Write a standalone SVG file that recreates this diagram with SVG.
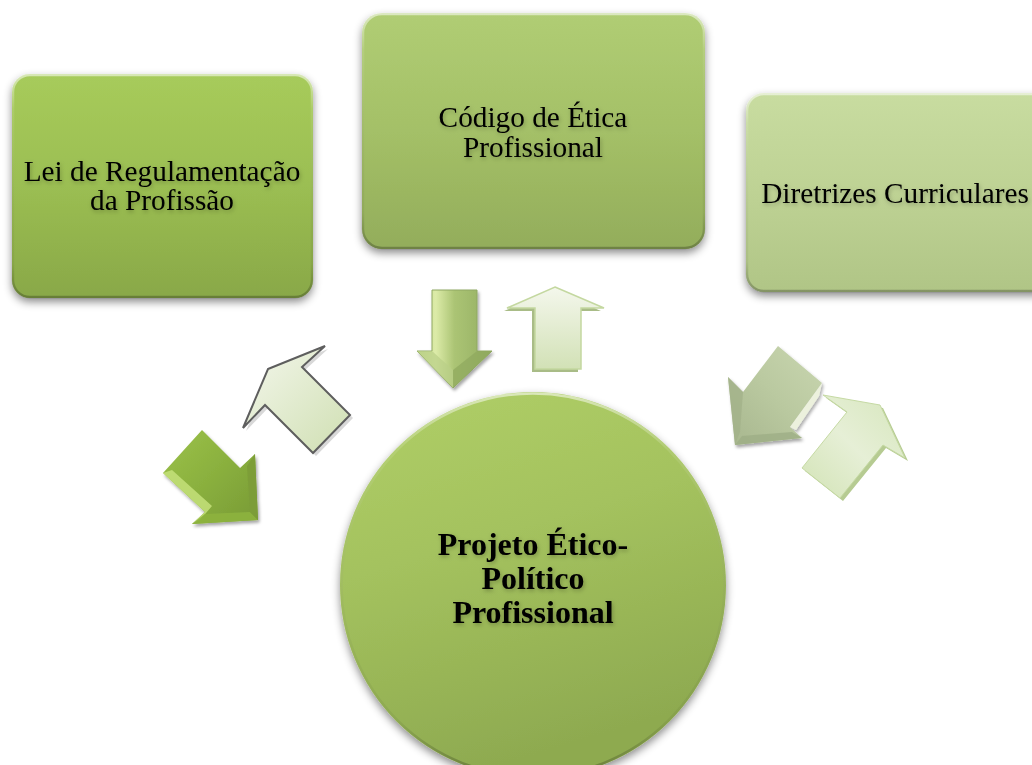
<svg xmlns="http://www.w3.org/2000/svg" width="1032" height="765" viewBox="0 0 1032 765">
  <defs>
    <style>
      .lbl { font-family: "Liberation Serif", "Times New Roman", serif; font-size: 29.3px; fill: #000; text-anchor: middle; }
      .main { font-family: "Liberation Serif", "Times New Roman", serif; font-size: 32px; font-weight: bold; fill: #000; text-anchor: middle; }
      .rim { fill: none; stroke: url(#rim); stroke-width: 2.5; }
    </style>
    <filter id="shadow" x="-10%" y="-10%" width="120%" height="125%">
      <feDropShadow dx="0" dy="4" stdDeviation="4" flood-color="#000" flood-opacity="0.45"/>
    </filter>
    <filter id="soft" x="-10%" y="-10%" width="125%" height="125%">
      <feDropShadow dx="1.5" dy="2.5" stdDeviation="1.5" flood-color="#000" flood-opacity="0.35"/>
    </filter>
    <filter id="tshadow" x="-5%" y="-20%" width="110%" height="150%">
      <feDropShadow dx="1" dy="2" stdDeviation="2" flood-color="#000" flood-opacity="0.25"/>
    </filter>
    <linearGradient id="rim" x1="0" y1="0" x2="0" y2="1">
      <stop offset="0" stop-color="#fff" stop-opacity="0.55"/>
      <stop offset="0.15" stop-color="#fff" stop-opacity="0.1"/>
      <stop offset="0.85" stop-color="#000" stop-opacity="0.05"/>
      <stop offset="1" stop-color="#000" stop-opacity="0.25"/>
    </linearGradient>
    <linearGradient id="gLeft" x1="0" y1="0" x2="0" y2="1">
      <stop offset="0" stop-color="#A7CB5B"/>
      <stop offset="0.5" stop-color="#9BBE52"/>
      <stop offset="1" stop-color="#89A848"/>
    </linearGradient>
    <linearGradient id="gCenter" x1="0" y1="0" x2="0" y2="1">
      <stop offset="0" stop-color="#B0CD74"/>
      <stop offset="0.5" stop-color="#A4C067"/>
      <stop offset="1" stop-color="#93AD5B"/>
    </linearGradient>
    <linearGradient id="gRight" x1="0" y1="0" x2="0" y2="1">
      <stop offset="0" stop-color="#C8DCA0"/>
      <stop offset="0.5" stop-color="#BED294"/>
      <stop offset="1" stop-color="#B0C586"/>
    </linearGradient>
    <linearGradient id="gCircle" x1="0" y1="0" x2="0.3" y2="1">
      <stop offset="0" stop-color="#B0CF68"/>
      <stop offset="0.45" stop-color="#A4C25E"/>
      <stop offset="1" stop-color="#8EAA50"/>
    </linearGradient>
    <linearGradient id="gDown" x1="0" y1="0" x2="1" y2="0">
      <stop offset="0" stop-color="#C6DC8C"/>
      <stop offset="0.25" stop-color="#DCEBA8"/>
      <stop offset="0.5" stop-color="#ABC474"/>
      <stop offset="1" stop-color="#93AE62"/>
    </linearGradient>
    <linearGradient id="gPale" x1="0" y1="0" x2="0" y2="1">
      <stop offset="0" stop-color="#F4F7EC"/>
      <stop offset="1" stop-color="#D2E1B6"/>
    </linearGradient>
    <linearGradient id="gPaleDiag" x1="0" y1="0" x2="1" y2="1">
      <stop offset="0" stop-color="#F4F7EC"/>
      <stop offset="1" stop-color="#CFDFB2"/>
    </linearGradient>
    <linearGradient id="gDark" x1="0" y1="0" x2="1" y2="1">
      <stop offset="0" stop-color="#9CC24A"/>
      <stop offset="0.5" stop-color="#8AB03E"/>
      <stop offset="1" stop-color="#789A35"/>
    </linearGradient>
    <linearGradient id="gGrey" x1="1" y1="0" x2="0" y2="1">
      <stop offset="0" stop-color="#C9D6B0"/>
      <stop offset="0.5" stop-color="#BAC9A0"/>
      <stop offset="1" stop-color="#A7B68E"/>
    </linearGradient>
    <linearGradient id="gLight" x1="0" y1="1" x2="1" y2="0">
      <stop offset="0" stop-color="#D2E3B5"/>
      <stop offset="0.5" stop-color="#E6EFD6"/>
      <stop offset="1" stop-color="#D6E6BC"/>
    </linearGradient>
  </defs>

  <rect width="1032" height="765" fill="#fff"/>

  <!-- nodes -->
  <g id="node-lei">
    <rect x="12" y="74" width="301" height="224" rx="18" fill="url(#gLeft)" filter="url(#shadow)"/>
    <rect x="13" y="75" width="299" height="222" rx="17" class="rim"/>
    <g filter="url(#tshadow)">
      <text class="lbl" x="162" y="181">Lei de Regulamentação</text>
      <text class="lbl" x="162" y="210">da Profissão</text>
    </g>
  </g>

  <g id="node-codigo">
    <rect x="362" y="13" width="343" height="236" rx="20" fill="url(#gCenter)" filter="url(#shadow)"/>
    <rect x="363" y="14" width="341" height="234" rx="19" class="rim"/>
    <g filter="url(#tshadow)">
      <text class="lbl" x="533" y="127">Código de Ética</text>
      <text class="lbl" x="533" y="157">Profissional</text>
    </g>
  </g>

  <g id="node-diretrizes">
    <rect x="746" y="93" width="310" height="199" rx="18" fill="url(#gRight)" filter="url(#shadow)"/>
    <rect x="747" y="94" width="308" height="197" rx="17" class="rim"/>
    <g filter="url(#tshadow)">
      <text class="lbl" x="895" y="203">Diretrizes Curriculares</text>
    </g>
  </g>

  <g id="node-projeto">
    <circle cx="533" cy="585" r="193" fill="url(#gCircle)" filter="url(#shadow)"/>
    <circle cx="533" cy="585" r="191.5" class="rim"/>
    <g filter="url(#tshadow)">
      <text class="main" x="533" y="555">Projeto Ético-</text>
      <text class="main" x="533" y="589">Político</text>
      <text class="main" x="533" y="623">Profissional</text>
    </g>
  </g>

  <!-- connectors: block arrows between the nodes and the centre -->
  <g id="connectors">
    <!-- Código -> Projeto (down) -->
    <g filter="url(#soft)">
      <polygon points="432,290 477,290 477,351 492,351 453,388 417,351 432,351" fill="url(#gDown)" stroke="#8FA862" stroke-width="1"/>
      <polygon points="417,351 432,351 453,370 453,388" fill="#B9CE88" opacity="0.7"/>
      <polygon points="477,351 492,351 453,388 453,370" fill="#8EA85E" opacity="0.7"/>
    </g>

    <!-- Projeto -> Código (up) -->
    <polygon points="552,290 601,311 578,311 578,372 532,372 532,311 504,311" fill="#A9BC87"/>
    <polygon points="555,287 604,308 581,308 581,369 535,369 535,308 507,308" fill="url(#gPale)" stroke="#C4D8A0" stroke-width="1.5"/>

    <!-- Projeto -> Lei (outlined, up-left) -->
    <polygon points="271,372 328,349 305,370 353,418 316,456 268,408 246,431" fill="#C8C8C8" opacity="0.7"/>
    <polygon points="268,369 325,346 302,367 350,415 313,453 265,405 243,428" fill="url(#gPaleDiag)" stroke="#5E5E5E" stroke-width="2" stroke-linejoin="miter"/>

    <!-- Lei -> Projeto (dark green, down-right) -->
    <g filter="url(#soft)">
      <polygon points="202,430 240,468 255,454 258,520 192,524 205,512 163,473" fill="url(#gDark)"/>
      <polygon points="163,473 205,512 192,524 200,520 212,506 172,470" fill="#C4E07A" opacity="0.85"/>
      <polygon points="192,524 258,520 250,512 205,514" fill="#8DB23F" opacity="0.9"/>
      <polygon points="255,454 258,520 250,512 247,466" fill="#7C9C37" opacity="0.9"/>
    </g>

    <!-- Diretrizes -> Projeto (grey-green, down-left) -->
    <g filter="url(#soft)">
      <polygon points="778,346 822,383 790,427 802,438 735,445 728,377 743,392" fill="url(#gGrey)"/>
      <polygon points="822,383 790,427 796,430 819,396" fill="#EEF4DE" opacity="0.9"/>
      <polygon points="728,377 743,392 740,432 735,445" fill="#A3B28A" opacity="0.8"/>
      <polygon points="735,445 802,438 792,432 742,436" fill="#9EAE86" opacity="0.8"/>
    </g>

    <!-- Projeto -> Diretrizes (light green, up-right) -->
    <polygon points="826,398 883,408 908,461 886,448 843,501 805,471 850,415" fill="#B6CB92"/>
    <polygon points="823,395 880,405 905,458 883,445 840,498 802,468 847,412" fill="url(#gLight)" stroke="#C6DAA4" stroke-width="1"/>
  </g>
</svg>
